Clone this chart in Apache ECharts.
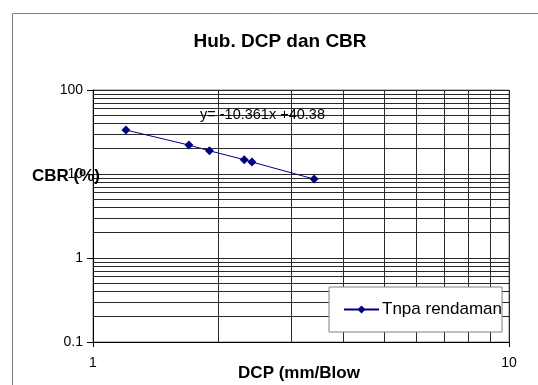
<!DOCTYPE html>
<html>
<head>
<meta charset="utf-8">
<script src="https://cdn.jsdelivr.net/npm/echarts@6/dist/echarts.min.js"></script>
<style>html,body{margin:0;padding:0;background:#fff}#c{width:538px;height:385px}</style>
</head>
<body>
<div id="c"></div>
<script>
// ---- data ----
const dcpValues = [1.20, 1.70, 1.905, 2.31, 2.41, 3.40];
const cbrValues = [33.4, 22.1, 18.9, 14.8, 13.9, 8.7];
const seriesName = 'Tnpa rendaman';
const titleText = 'Hub. DCP dan CBR';
const xAxisTitle = 'DCP (mm/Blow';
const yAxisTitle = 'CBR (%)';
const trendText = 'y= -10.361x +40.38';
const yMinorGrid = [0.2,0.3,0.4,0.5,0.6,0.7,0.8,0.9,2,3,4,5,6,7,8,9,20,30,40,50,60,70,80,90];
const xMinorGrid = [2,3,4,5,6,7,8,9];

const FONT = "'Liberation Sans', Arial, sans-serif";
const chart = echarts.init(document.getElementById('c'), null, {renderer: 'canvas'});
const fmt = v => String(+(+v).toPrecision(6));

const gridLine = {color: '#2a2a2a', width: 1, type: 'solid'};
const option = {
  animation: false,
  backgroundColor: '#fff',
  title: {
    text: titleText, left: 280, top: 32, textAlign: 'center', padding: 0,
    textStyle: {fontFamily: FONT, fontWeight: 'bold', fontSize: 19, color: '#000'}
  },
  grid: {left: 93, top: 90, right: 29, bottom: 43, show: true, borderColor: '#808080', borderWidth: 1,
         backgroundColor: '#fff', containLabel: false, outerBoundsMode: 'none'},
  xAxis: {
    type: 'log', logBase: 10, min: 1, max: 10,
    axisLine: {show: true, onZero: false, lineStyle: {color: '#000', width: 1}},
    axisTick: {show: true, length: 5, lineStyle: {color: '#000'}},
    axisLabel: {fontFamily: FONT, fontSize: 14, color: '#000', margin: 14, formatter: fmt},
    splitLine: {show: true, lineStyle: gridLine}
  },
  yAxis: {
    type: 'log', logBase: 10, min: 0.1, max: 100,
    axisLine: {show: true, onZero: false, lineStyle: {color: '#000', width: 1}},
    axisTick: {show: true, length: 6, lineStyle: {color: '#000'}},
    axisLabel: {fontFamily: FONT, fontSize: 14, color: '#000', margin: 10, formatter: fmt},
    splitLine: {show: true, lineStyle: gridLine}
  },
  legend: {
    data: [seriesName], left: 329, top: 287, orient: 'vertical', z: 50, zlevel: 0,
    backgroundColor: '#fff', borderColor: '#808080', borderWidth: 1,
    padding: [14, 0, 14, 14], itemWidth: 35, itemHeight: 10, itemGap: 0,
    textStyle: {fontFamily: FONT, fontSize: 17, color: '#000', padding: [0, 0, 0, -2]}
  },
  series: [
    {
      name: 'grid', type: 'line', data: [], silent: true, z: 1,
      markLine: {
        silent: true, symbol: ['none', 'none'], label: {show: false}, z: 1,
        lineStyle: gridLine, emphasis: {disabled: true},
        data: yMinorGrid.map(v => ({yAxis: v})).concat(xMinorGrid.map(v => ({xAxis: v})))
      }
    },
    {
      name: seriesName, type: 'line', z: 5,
      data: dcpValues.map((x, i) => [x, cbrValues[i]]),
      symbol: 'diamond', symbolSize: 9,
      lineStyle: {color: '#000080', width: 1},
      itemStyle: {color: '#000080'}
    }
  ],
  graphic: [
    {type: 'rect', shape: {x: 12.5, y: 13.5, width: 600, height: 500}, style: {fill: 'none', stroke: '#808080', lineWidth: 1}, z: 100, silent: true},
    {type: 'text', x: 32, y: 176, style: {text: yAxisTitle, font: "bold 17px " + FONT, fill: '#000', verticalAlign: 'middle'}, z: 100},
    {type: 'text', x: 299, y: 373, style: {text: xAxisTitle, font: "bold 17px " + FONT, fill: '#000', align: 'center', verticalAlign: 'middle'}, z: 100},
    {type: 'text', x: 200, y: 115, style: {text: trendText, font: "14.5px " + FONT, fill: '#000', verticalAlign: 'middle'}, z: 100}
  ]
};
chart.setOption(option);
</script>
</body>
</html>
